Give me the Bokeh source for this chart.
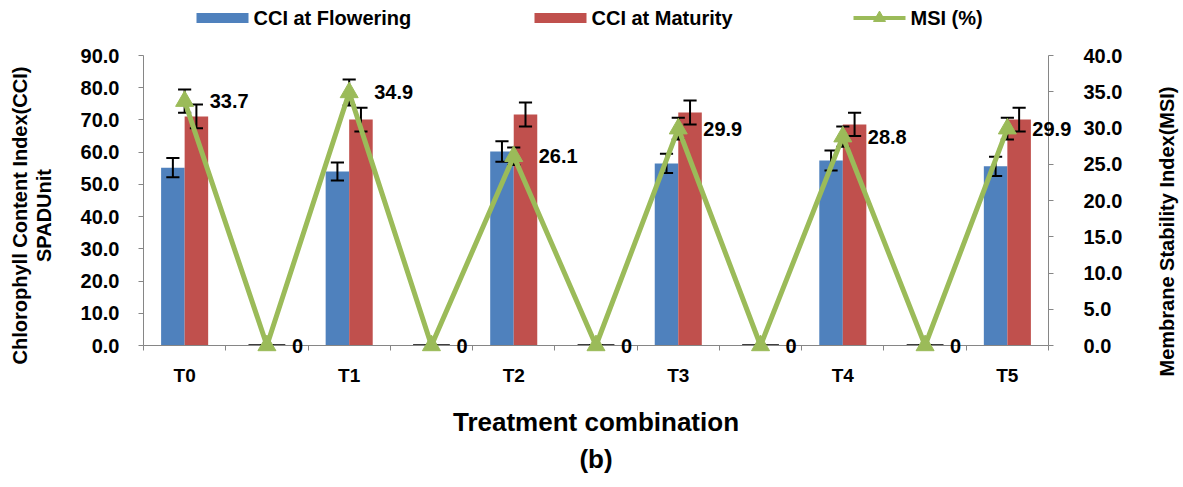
import math
from bokeh.plotting import figure
from bokeh.layouts import column
from bokeh.models import (Range1d, LinearAxis, FixedTicker, NumeralTickFormatter,
                          ColumnDataSource, Title)
from bokeh.transform import dodge
from bokeh.embed import file_html
from bokeh.resources import INLINE
from bokeh.core.properties import value

# ---------------- data ----------------
categories = ["T0", "", "T1", "", "T2", "", "T3", "", "T4", "", "T5"]
cci_flowering = [55.2, 0, 54.0, 0, 60.2, 0, 56.5, 0, 57.4, 0, 55.6]
cci_flowering_err = [3.0, 0, 2.8, 0, 3.2, 0, 3.0, 0, 3.1, 0, 3.0]
cci_maturity = [71.1, 0, 70.1, 0, 71.7, 0, 72.3, 0, 68.6, 0, 70.1]
cci_maturity_err = [3.7, 0, 3.7, 0, 3.7, 0, 3.7, 0, 3.6, 0, 3.7]
msi = [33.7, 0, 34.9, 0, 26.1, 0, 29.9, 0, 28.8, 0, 29.9]
msi_err = [1.6, 0, 1.8, 0, 1.2, 0, 1.5, 0, 1.4, 0, 1.5]
left_ticks = [0, 10, 20, 30, 40, 50, 60, 70, 80, 90]
right_ticks = [0, 5, 10, 15, 20, 25, 30, 35, 40]
series_names = ["CCI at Flowering", "CCI at Maturity", "MSI (%)"]
left_title = ["Chlorophyll Content Index(CCI)", "SPADUnit"]
right_title = "Membrane Stability Index(MSI)"
x_title = "Treatment combination"
caption = "(b)"

BLUE = "#4F81BD"
RED = "#C0504D"
GREEN = "#9BBB59"
GRAY = "#868686"
FONT_NAME = "Liberation Sans"
FONT = value(FONT_NAME)

# layout sizes (pixels)
TOTAL_W, TOTAL_H = 1183, 487
LEG_H = 35
MAIN_H = TOTAL_H - LEG_H
FRAME_L, FRAME_R = 143, 1048
B_LEFT, B_TOP, B_BOTTOM = FRAME_L, 55 - LEG_H, 142
B_RIGHT = TOTAL_W - FRAME_R

idx = list(range(len(categories)))
src = ColumnDataSource(dict(
    x=idx,
    cf=cci_flowering,
    cf_lo=[v - e for v, e in zip(cci_flowering, cci_flowering_err)],
    cf_hi=[v + e for v, e in zip(cci_flowering, cci_flowering_err)],
    cm=cci_maturity,
    cm_lo=[v - e for v, e in zip(cci_maturity, cci_maturity_err)],
    cm_hi=[v + e for v, e in zip(cci_maturity, cci_maturity_err)],
    msi=msi,
    msi_lo=[v - e for v, e in zip(msi, msi_err)],
    msi_hi=[v + e for v, e in zip(msi, msi_err)],
    msi_lbl=[("%.1f" % v) if v else "0" for v in msi],
))

XR = Range1d(-0.5, len(categories) - 0.5)
YR = Range1d(left_ticks[0], left_ticks[-1])
p = figure(width=TOTAL_W, height=MAIN_H, x_range=XR, y_range=YR,
           output_backend="svg", toolbar_location=None,
           min_border_left=B_LEFT, min_border_right=B_RIGHT, min_border_top=B_TOP,
           min_border_bottom=B_BOTTOM)
p.xgrid.visible = False
p.ygrid.visible = False
p.outline_line_color = None
p.extra_y_ranges = {"msi": Range1d(right_ticks[0], right_ticks[-1])}

BW = 0.286
OFF = BW / 2
CAP = 0.08

p.vbar(x=dodge("x", -OFF, range=p.x_range), top="cf", width=BW, source=src,
       fill_color=BLUE, line_color=None)
p.vbar(x=dodge("x", OFF, range=p.x_range), top="cm", width=BW, source=src,
       fill_color=RED, line_color=None)

# error bars for bars
for off, lo, hi in [(-OFF, "cf_lo", "cf_hi"), (OFF, "cm_lo", "cm_hi")]:
    p.segment(x0=dodge("x", off, range=p.x_range), x1=dodge("x", off, range=p.x_range),
              y0=lo, y1=hi, source=src, line_color="black", line_width=2)
    for c in (lo, hi):
        p.segment(x0=dodge("x", off - CAP, range=p.x_range),
                  x1=dodge("x", off + CAP, range=p.x_range),
                  y0=c, y1=c, source=src, line_color="black", line_width=2)

# MSI error bars (behind line)
p.segment(x0="x", x1="x", y0="msi_lo", y1="msi_hi", source=src, y_range_name="msi",
          line_color="black", line_width=2)
for c in ("msi_lo", "msi_hi"):
    p.segment(x0=dodge("x", -CAP, range=p.x_range), x1=dodge("x", CAP, range=p.x_range),
              y0=c, y1=c, source=src, y_range_name="msi", line_color="black", line_width=2)

p.line(x="x", y="msi", source=src, y_range_name="msi", line_color=GREEN,
       line_width=5, level="overlay")
p.scatter(x="x", y="msi", source=src, y_range_name="msi", marker="triangle",
          size=18, fill_color=GREEN, line_color=GREEN, level="overlay")

p.text(x="x", y="msi", text="msi_lbl", source=src, y_range_name="msi", x_offset=25,
       text_align="left", text_baseline="middle", text_font=FONT,
       text_font_style="bold", text_font_size="20px", text_color="black",
       level="overlay")

# ---------------- axis titles drawn as unclipped text ----------------
ymid = (YR.start + YR.end) / 2
title_kw = dict(angle=math.pi / 2, text_align="center", text_baseline="middle",
                text_font=FONT, text_font_style="bold", text_font_size="20px",
                text_color="black", level="overlay")
p.text(x=[XR.start], y=[ymid], text=[left_title[0]], x_offset=19 - B_LEFT, y_offset=15,
       **title_kw)
p.text(x=[XR.start], y=[ymid], text=[left_title[1]], x_offset=43 - B_LEFT, y_offset=15,
       **title_kw)
p.text(x=[XR.end], y=[ymid], text=[right_title], x_offset=1166 - FRAME_R, y_offset=31,
       **title_kw)

# ---------------- axes ----------------
def style_axis(ax):
    ax.axis_line_color = GRAY
    ax.major_tick_line_color = GRAY
    ax.minor_tick_line_color = GRAY
    ax.major_label_text_font = FONT_NAME
    ax.major_label_text_font_style = "bold"
    ax.major_label_text_color = "black"
    ax.axis_label_text_font = FONT_NAME
    ax.axis_label_text_font_style = "bold"
    ax.axis_label_text_color = "black"

ya = p.yaxis[0]
style_axis(ya)
ya.ticker = FixedTicker(ticks=left_ticks)
ya.formatter = NumeralTickFormatter(format="0.0")
ya.major_tick_out = 5
ya.major_tick_in = 0
ya.minor_tick_out = 0
ya.minor_tick_in = 0
ya.major_label_text_font_size = "20px"
ya.major_label_standoff = 19

ra = LinearAxis(y_range_name="msi")
style_axis(ra)
ra.ticker = FixedTicker(ticks=right_ticks)
ra.formatter = NumeralTickFormatter(format="0.0")
ra.major_tick_out = 5
ra.major_tick_in = 0
ra.minor_tick_out = 0
ra.minor_tick_in = 0
ra.major_label_text_font_size = "20px"
ra.major_label_standoff = 30
p.add_layout(ra, "right")

xa = p.xaxis[0]
style_axis(xa)
xa.ticker = FixedTicker(ticks=idx, minor_ticks=[i - 0.5 for i in range(len(categories) + 1)])
xa.major_label_overrides = {i: c for i, c in enumerate(categories)}
xa.major_tick_out = 0
xa.major_tick_in = 0
xa.minor_tick_out = 5
xa.minor_tick_in = 0
xa.major_label_text_font_size = "19px"
xa.major_label_standoff = 14
xa.axis_label = x_title
xa.axis_label_text_font_size = "26px"
xa.axis_label_standoff = 18

t = Title(text=caption, align="center", text_font=FONT_NAME, text_font_style="bold",
          text_font_size="26px", text_color="black", standoff=4)
p.add_layout(t, "below")

# ---------------- legend strip (pixel-mapped frame, same borders as the chart) ----------------
lf = figure(width=TOTAL_W, height=LEG_H, x_range=Range1d(FRAME_L, FRAME_R),
            y_range=Range1d(0, LEG_H), output_backend="svg", toolbar_location=None,
            x_axis_location=None, y_axis_location=None,
            min_border_left=B_LEFT, min_border_right=B_RIGHT, min_border_top=0,
            min_border_bottom=0)
lf.outline_line_color = None
lf.xgrid.visible = False
lf.ygrid.visible = False
LEG_Y = LEG_H / 2
swatch_x = [196, 534, 853]          # left edge of each legend key (page px)
KEY_W, KEY_H, GAP = 52, 10, 5
lf.rect(x=[swatch_x[0] + KEY_W / 2, swatch_x[1] + KEY_W / 2], y=[LEG_Y, LEG_Y],
        width=KEY_W, height=KEY_H, fill_color=[BLUE, RED], line_color=None)
lf.line(x=[swatch_x[2], swatch_x[2] + KEY_W], y=[LEG_Y, LEG_Y], line_color=GREEN,
        line_width=4)
lf.scatter(x=[swatch_x[2] + KEY_W / 2], y=[LEG_Y], marker="triangle", size=12,
           fill_color=GREEN, line_color=GREEN)
lf.text(x=[sx + KEY_W + GAP for sx in swatch_x], y=[LEG_Y] * 3, text=series_names,
        text_align="left", text_baseline="middle", text_font=FONT,
        text_font_style="bold", text_font_size="20px", text_color="black")

layout = column(lf, p)
open("out.html", "w").write(file_html(layout, INLINE))
